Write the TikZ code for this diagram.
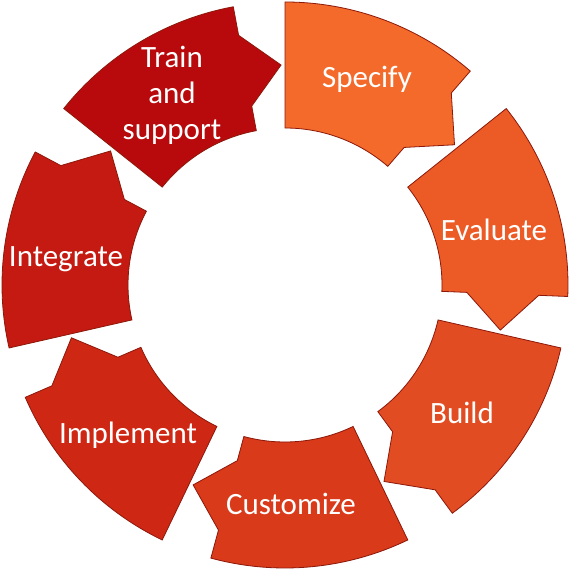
\documentclass[tikz,border=0pt]{standalone}
\usepackage{fontspec}
\setmainfont{Carlito}
\usetikzlibrary{calc}

\definecolor{cSpec}{RGB}{244,106,42}
\definecolor{cEval}{RGB}{236,90,38}
\definecolor{cBuild}{RGB}{226,76,34}
\definecolor{cCust}{RGB}{216,58,26}
\definecolor{cImpl}{RGB}{206,40,21}
\definecolor{cInteg}{RGB}{196,26,18}
\definecolor{cTrain}{RGB}{184,10,12}
\definecolor{segedge}{RGB}{140,24,10}

\begin{document}
\begin{tikzpicture}[x=1pt,y=1pt,
 seg/.style={draw=segedge,line width=0.8pt,line join=miter},
 lab/.style={text=white,align=center,inner sep=0pt,font=\fontsize{31}{36}\selectfont}]
\useasboundingbox (-285,-284) rectangle (284,285);
% seven arrow segments, clockwise from the top
\foreach \i/\col in {0/cSpec,1/cEval,2/cBuild,3/cCust,4/cImpl,5/cInteg,6/cTrain}{
 \pgfmathsetmacro\s{90-\i*360/7}
 \pgfmathsetmacro\e{\s-40.9}
 \pgfmathsetmacro\t{\e-9.5}
 \draw[seg,fill=\col] (\s:157) -- (\s:283)
   arc[start angle=\s,end angle=\e,radius=283]
   -- (\e:254) -- (\t:220) -- (\e:182) -- (\e:157)
   arc[start angle=\e,end angle=\s,radius=157] -- cycle;
}
\node[lab] (specify) at (82,206) {Specify};
\node[lab] (evaluate) at (209,55) {Evaluate};
\node[lab] (build) at (177,-128) {Build};
\node[lab] (customize) at (6,-219) {Customize};
\node[lab] (implement) at (-157,-150) {Implement};
\node[lab] (integrate) at (-219,26) {Integrate};
\node[lab] (train) at (-113,190) {Train\\and\\support};
\end{tikzpicture}
\end{document}
